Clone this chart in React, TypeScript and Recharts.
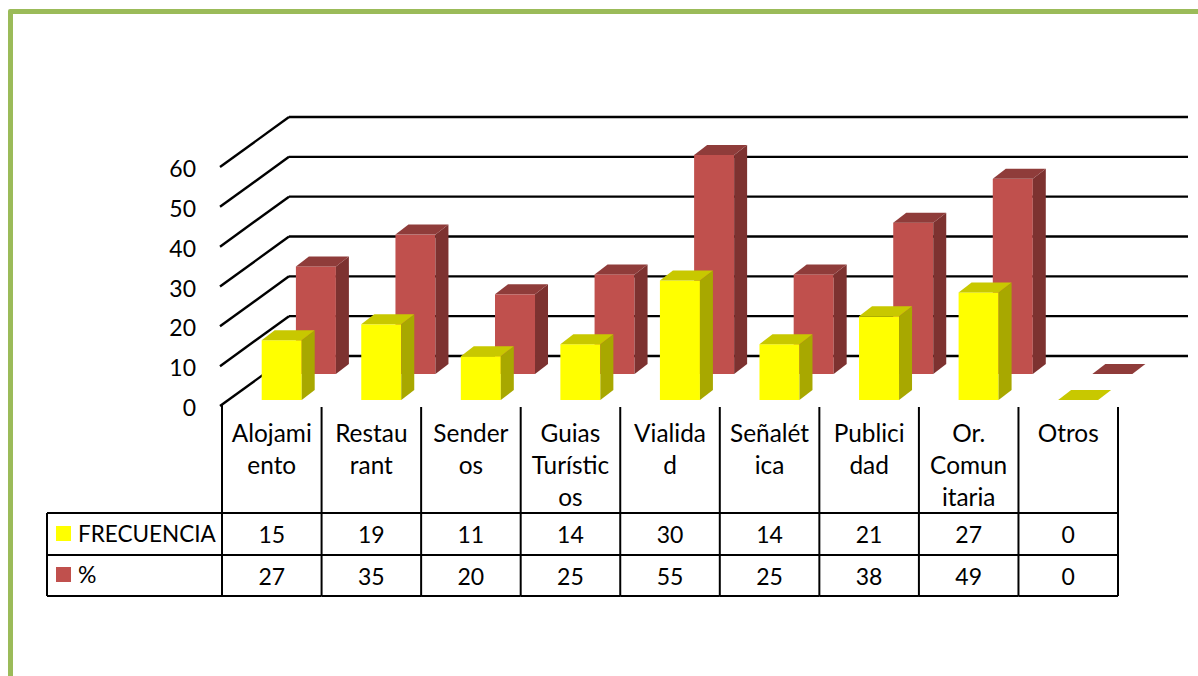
import { BarChart, Bar, XAxis, YAxis, CartesianGrid } from "recharts";

const categories = [
  ["Alojami", "ento"],
  ["Restau", "rant"],
  ["Sender", "os"],
  ["Guias", "Turístic", "os"],
  ["Vialida", "d"],
  ["Señalét", "ica"],
  ["Publici", "dad"],
  ["Or.", "Comun", "itaria"],
  ["Otros"],
];
const frecuencia = [15, 19, 11, 14, 30, 14, 21, 27, 0];
const porcentaje = [27, 35, 20, 25, 55, 25, 38, 49, 0];
const yTicks = [0, 10, 20, 30, 40, 50, 60];

const data = categories.map((lines, i) => ({
  name: lines.join(""),
  frecuencia: frecuencia[i],
  porcentaje: porcentaje[i],
}));

const FONT = "Lato, sans-serif";
const TEXT_SIZE = 23;
const TEXT_COLOR = "#000";
const LINE_COLOR = "#000";

const TABLE_LEFT = 47;
const PLOT_LEFT = 222;
const TABLE_TOP = 405;
const ROW_1 = 513;
const ROW_2 = 555;
const ROW_3 = 596;
const HALF_BAND = 49.8;

// depth of the fake 3d floor and of each bar
const FLOOR_DX = 67;
const FLOOR_DY = -49;
const GRID_END = 1188;
const BAR_DX = 13;
const BAR_DY = -10;

function Bar3D(props: any) {
  const { x, y, width, height, front, top, side, shiftX, shiftY } = props;
  const x0 = x + shiftX;
  const y0 = y + shiftY;
  const x1 = x0 + width;
  const y1 = y0 + height;
  return (
    <g>
      {height > 0 && <rect x={x0} y={y0} width={width} height={height} fill={front} />}
      {height > 0 && (
        <polygon
          points={`${x1},${y0} ${x1 + BAR_DX},${y0 + BAR_DY} ${x1 + BAR_DX},${y1 + BAR_DY} ${x1},${y1}`}
          fill={side}
        />
      )}
      <polygon
        points={`${x0},${y0} ${x0 + BAR_DX},${y0 + BAR_DY} ${x1 + BAR_DX},${y0 + BAR_DY} ${x1},${y0}`}
        fill={top}
      />
    </g>
  );
}

function gridLine(props: any) {
  const { x1, y1, key } = props;
  const bx = x1 + FLOOR_DX;
  const by = y1 + FLOOR_DY;
  return (
    <g key={key}>
      <line x1={x1 - 2} y1={y1 + 1} x2={bx} y2={by} stroke={LINE_COLOR} strokeWidth={2.4} />
      <line x1={bx} y1={by} x2={GRID_END} y2={by} stroke={LINE_COLOR} strokeWidth={2.4} />
    </g>
  );
}

function Cell(props: { x: number; y: number; children: any; anchor?: string; size?: number }) {
  return (
    <text
      x={props.x}
      y={props.y}
      textAnchor={props.anchor || "middle"}
      dominantBaseline="central"
      fontFamily={FONT}
      fontSize={props.size || TEXT_SIZE}
      fill={TEXT_COLOR}
    >
      {props.children}
    </text>
  );
}

function TableTick(props: any) {
  const { x, index } = props;
  const left = x - HALF_BAND;
  const right = x + HALF_BAND;
  return (
    <g>
      <line x1={right} y1={TABLE_TOP + 2} x2={right} y2={ROW_3} stroke={LINE_COLOR} strokeWidth={2} />
      <line x1={left} y1={ROW_1} x2={right} y2={ROW_1} stroke={LINE_COLOR} strokeWidth={2} />
      <line x1={left} y1={ROW_2} x2={right} y2={ROW_2} stroke={LINE_COLOR} strokeWidth={2} />
      <line x1={left} y1={ROW_3} x2={right} y2={ROW_3} stroke={LINE_COLOR} strokeWidth={2} />
      {categories[index].map((line, i) => (
        <Cell key={line} x={x} y={432 + i * 32} size={24.4}>
          {line}
        </Cell>
      ))}
      <Cell x={x} y={534}>{frecuencia[index]}</Cell>
      <Cell x={x} y={576}>{porcentaje[index]}</Cell>
      {index === 0 && (
        <g>
          <line x1={PLOT_LEFT} y1={TABLE_TOP} x2={PLOT_LEFT} y2={ROW_3} stroke={LINE_COLOR} strokeWidth={2} />
          <line x1={TABLE_LEFT} y1={ROW_1} x2={TABLE_LEFT} y2={ROW_3} stroke={LINE_COLOR} strokeWidth={2} />
          <line x1={TABLE_LEFT} y1={ROW_1} x2={PLOT_LEFT} y2={ROW_1} stroke={LINE_COLOR} strokeWidth={2} />
          <line x1={TABLE_LEFT} y1={ROW_2} x2={PLOT_LEFT} y2={ROW_2} stroke={LINE_COLOR} strokeWidth={2} />
          <line x1={TABLE_LEFT} y1={ROW_3} x2={PLOT_LEFT} y2={ROW_3} stroke={LINE_COLOR} strokeWidth={2} />
          <rect x={56} y={526} width={15} height={15} fill="#FFFF00" />
          <rect x={56} y={567} width={15} height={15} fill="#C0504D" />
          <Cell x={78} y={533} anchor="start" size={22.5}>FRECUENCIA</Cell>
          <Cell x={78} y={574} anchor="start">%</Cell>
        </g>
      )}
    </g>
  );
}

export default function App() {
  return (
    <div style={{ position: "absolute", left: 0, top: 0, width: 1198, height: 676, overflow: "hidden", background: "#fff" }}>
      <div
        style={{
          position: "absolute",
          left: 8,
          top: 9,
          width: 1300,
          height: 800,
          border: "5px solid #9BBB59",
          borderRadius: 2,
        }}
      />
      <div style={{ position: "absolute", left: 0, top: 0 }}>
        <BarChart
          width={1198}
          height={676}
          data={data}
          barSize={40}
          barGap={-40}
          margin={{ top: 166, right: 80, bottom: 71, left: 162 }}
          style={{ overflow: "visible" }}
        >
          <CartesianGrid vertical={false} horizontal={gridLine} />
          <XAxis
            dataKey="name"
            height={200}
            interval={0}
            axisLine={false}
            tickLine={false}
            tick={TableTick}
          />
          <YAxis
            width={60}
            domain={[0, 60]}
            ticks={yTicks}
            interval={0}
            axisLine={false}
            tickLine={false}
            tickMargin={20}
            tick={{ fontFamily: FONT, fontSize: TEXT_SIZE, fill: TEXT_COLOR, dy: 3 }}
          />
          <Bar
            dataKey="porcentaje"
            isAnimationActive={false}
            shape={(p: any) => (
              <Bar3D {...p} front="#C0504D" top="#8F3C3A" side="#7D3230" shiftX={43.9} shiftY={-31} />
            )}
          />
          <Bar
            dataKey="frecuencia"
            isAnimationActive={false}
            shape={(p: any) => (
              <Bar3D {...p} front="#FFFF00" top="#C8C800" side="#A8A800" shiftX={9.7} shiftY={-5} />
            )}
          />
        </BarChart>
      </div>
    </div>
  );
}
